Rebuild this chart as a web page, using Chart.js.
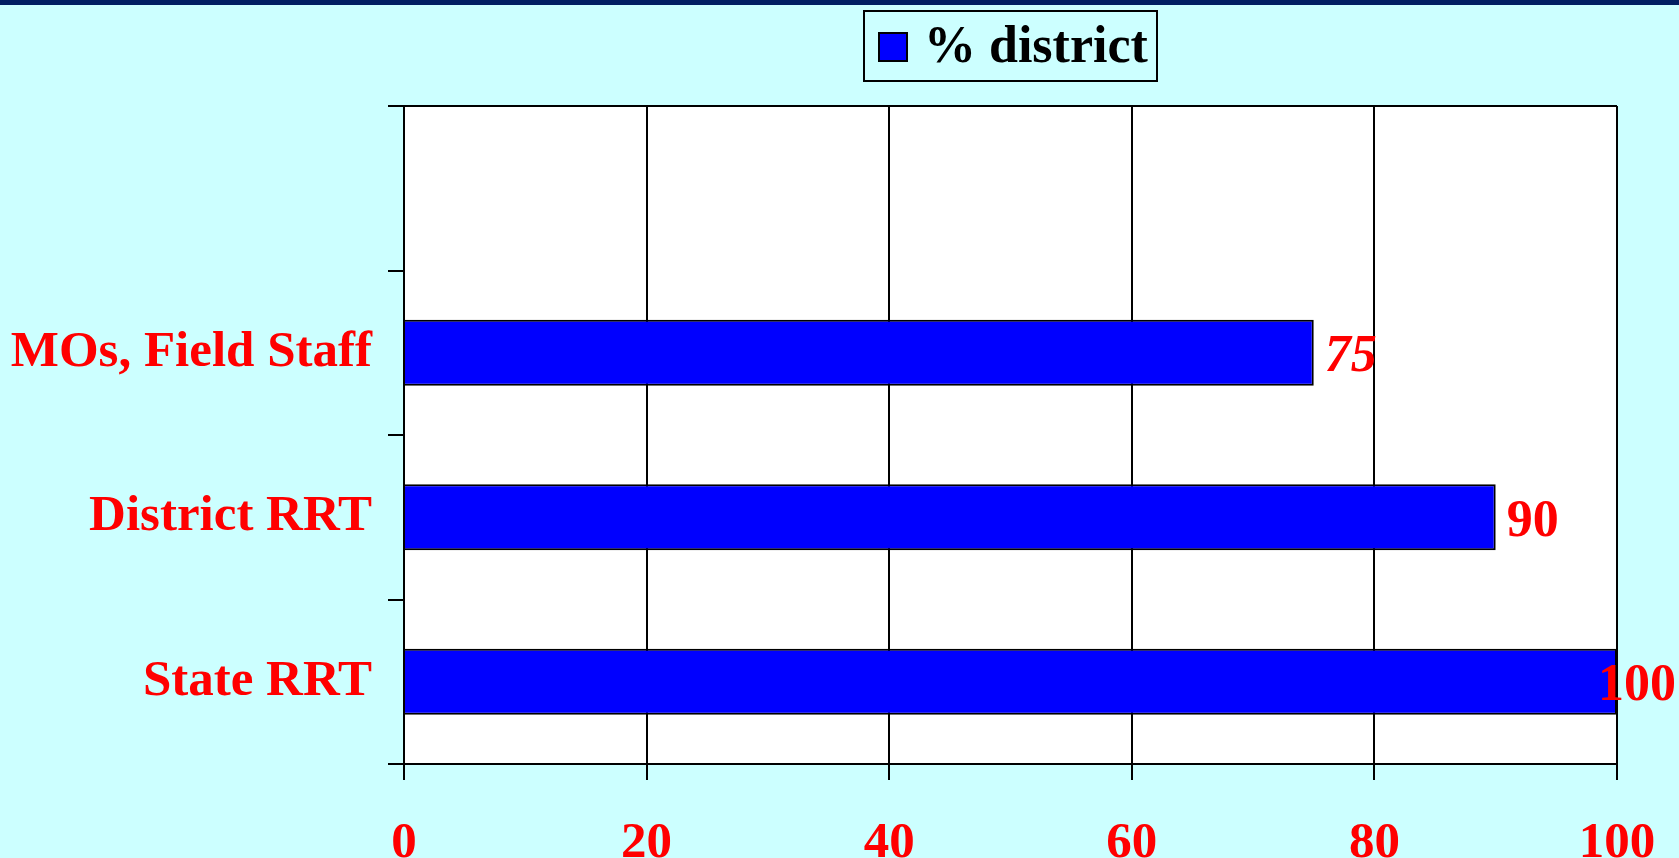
<!DOCTYPE html>
<html lang="en">
<head>
    <meta charset="UTF-8">
    <title>% district</title>
    <script src="https://cdn.jsdelivr.net/npm/chart.js@4/dist/chart.umd.min.js"></script>
    <style>
        html, body { margin: 0; padding: 0; background: #CCFFFF; overflow: hidden; }
        #wrap { width: 1679px; height: 858px; }
    </style>
</head>
<body>
<div id="wrap"><canvas id="myChart" width="1679" height="858"></canvas></div>
<script>
    // categories (top one is an empty slot, like the original)
    const categories = ['', 'MOs, Field Staff', 'District RRT', 'State RRT'];
    const pctDistrict = [null, 75, 90, 100];
    const xTicks = [0, 20, 40, 60, 80, 100];

    const serif = '"Liberation Serif", "Times New Roman", serif';

    // page background, navy top strip, white plot area
    const backdrop = {
        id: 'backdrop',
        beforeDraw(chart) {
            const ctx = chart.ctx, a = chart.chartArea;
            ctx.save();
            ctx.fillStyle = '#CCFFFF';
            ctx.fillRect(0, 0, chart.width, chart.height);
            ctx.fillStyle = '#001E62';
            ctx.fillRect(0, 0, chart.width, 5);
            ctx.fillStyle = '#FFFFFF';
            ctx.fillRect(a.left, a.top, a.right - a.left, a.bottom - a.top);
            ctx.restore();
        },
        afterDraw(chart) {
            const ctx = chart.ctx, a = chart.chartArea;
            ctx.save();
            ctx.strokeStyle = '#000';
            ctx.lineWidth = 2;
            ctx.beginPath();
            ctx.moveTo(a.left, a.top);
            ctx.lineTo(a.right, a.top);
            ctx.stroke();

            // legend box, centred over the plot area
            const ds = chart.data.datasets[0];
            const cx = (a.left + a.right) / 2;
            const w = 293, h = 70, top = 11;
            const left = cx - w / 2;
            ctx.lineWidth = 2;
            ctx.strokeRect(left, top, w, h);
            ctx.fillStyle = ds.backgroundColor;
            ctx.fillRect(left + 15, 33, 28, 28);
            ctx.strokeRect(left + 15, 33, 28, 28);
            ctx.fillStyle = '#000';
            ctx.font = 'bold 52px ' + serif;
            ctx.textAlign = 'left';
            ctx.textBaseline = 'middle';
            ctx.fillText(ds.label, left + 60, 49);
            ctx.restore();
        }
    };

    // value labels at the end of each bar
    const valueLabels = {
        id: 'valueLabels',
        afterDatasetsDraw(chart) {
            const ctx = chart.ctx;
            const meta = chart.getDatasetMeta(0);
            ctx.save();
            ctx.fillStyle = '#FF0000';
            ctx.textAlign = 'left';
            ctx.textBaseline = 'middle';
            meta.data.forEach((bar, i) => {
                const v = pctDistrict[i];
                if (v === null) return;
                ctx.font = (v === 75 ? 'italic ' : '') + 'bold 52px ' + serif;
                const txt = String(v);
                const tw = ctx.measureText(txt).width;
                const x = Math.min(bar.x + 11, chart.width - tw - 3);
                ctx.fillText(txt, x, bar.y + 5);
            });
            ctx.restore();
        }
    };

    const data = {
        labels: categories,
        datasets: [{
            label: '% district',
            data: pctDistrict,
            backgroundColor: '#0000FF',
            borderColor: '#000000',
            borderWidth: 2,
            barPercentage: 0.4,
            categoryPercentage: 1.0
        }]
    };

    const config = {
        type: 'bar',
        data,
        options: {
            indexAxis: 'y',
            responsive: false,
            animation: false,
            layout: { padding: { top: 106, right: 62, left: 0, bottom: 0 } },
            plugins: {
                legend: { display: false },
                tooltip: { enabled: false }
            },
            scales: {
                x: {
                    min: 0,
                    max: 100,
                    afterFit(scale) {
                        scale.height = 94;
                        scale.paddingLeft = 0;
                        scale.paddingRight = 0;
                    },
                    afterBuildTicks(scale) { scale.ticks = xTicks.map(v => ({ value: v })); },
                    grid: {
                        color: '#000',
                        lineWidth: 2,
                        tickLength: 16,
                        drawTicks: true
                    },
                    border: { color: '#000', width: 2 },
                    ticks: {
                        color: '#FF0000',
                        font: { family: serif, size: 51, weight: 'bold' },
                        padding: 33,
                        maxRotation: 0
                    }
                },
                y: {
                    afterFit(scale) {
                        scale.width = 404;
                        scale.paddingTop = 0;
                        scale.paddingBottom = 0;
                    },
                    grid: {
                        color: '#000',
                        lineWidth: 2,
                        tickLength: 16,
                        drawOnChartArea: false,
                        offset: true
                    },
                    border: { color: '#000', width: 2 },
                    ticks: {
                        color: '#FF0000',
                        font: { family: serif, size: 51, weight: 'bold' },
                        padding: 16
                    }
                }
            }
        },
        plugins: [backdrop, valueLabels]
    };

    var myChart = new Chart(document.getElementById('myChart'), config);
</script>
</body>
</html>
